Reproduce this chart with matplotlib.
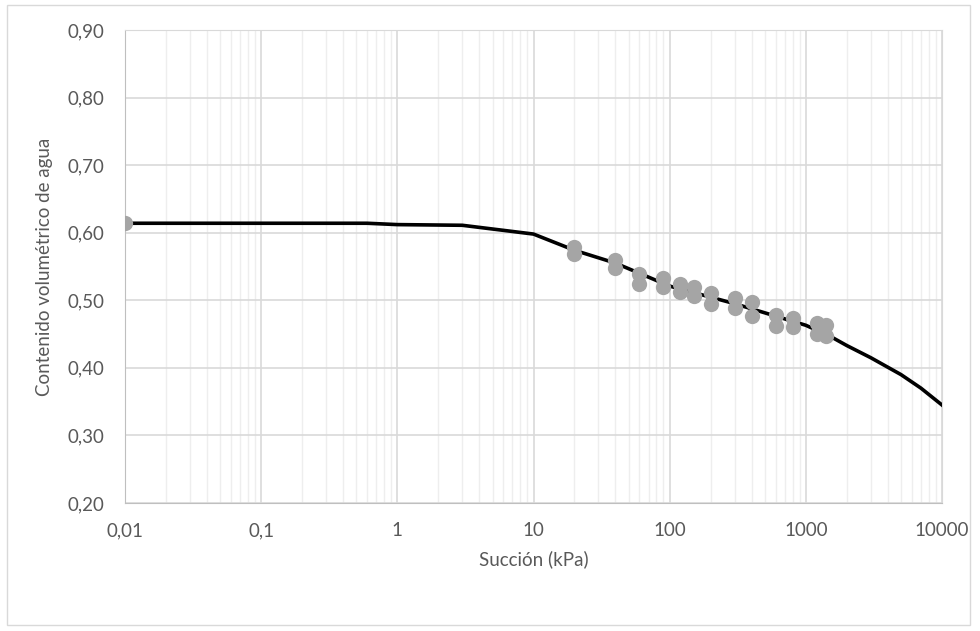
import matplotlib.pyplot as plt
from matplotlib.ticker import FixedLocator, FuncFormatter, LogLocator, NullFormatter
from matplotlib.patches import Rectangle

plt.rcParams['font.family'] = ['Lato', 'DejaVu Sans']

# measured points (suction kPa, volumetric water content)
suction_pts = [0.01,
               20, 20, 40, 40, 60, 60, 90, 90, 120, 120, 150, 150,
               200, 200, 300, 300, 400, 400, 600, 600, 800, 800,
               1200, 1200, 1400, 1400]
theta_pts = [0.614,
             0.579, 0.569, 0.560, 0.548, 0.539, 0.524, 0.533, 0.519,
             0.524, 0.512, 0.519, 0.507, 0.511, 0.495, 0.504, 0.488,
             0.498, 0.477, 0.478, 0.462, 0.474, 0.460, 0.466, 0.450,
             0.464, 0.447]

# fitted curve
suction_fit = [0.01, 0.1, 0.6, 1, 3, 10, 20, 40, 100, 300, 1000, 1500,
               2000, 3000, 5000, 7000, 10000]
theta_fit = [0.614, 0.614, 0.614, 0.612, 0.611, 0.598, 0.574, 0.555,
             0.521, 0.495, 0.463, 0.447, 0.433, 0.415, 0.390, 0.370, 0.345]

fig = plt.figure(figsize=(9.8, 6.31), dpi=100)
ax = fig.add_axes([125 / 980, 1 - 503 / 631, 817 / 980, 473 / 631])

ax.plot(suction_fit, theta_fit, color='black', lw=2.6, zorder=3)
ax.plot(suction_pts, theta_pts, 'o', color='#a5a5a5', ms=11, mec='none', zorder=4)

ax.set_xscale('log')
ax.set_xlim(0.01, 10000)
ax.set_ylim(0.20, 0.90)
ax.yaxis.set_major_locator(FixedLocator([0.2, 0.3, 0.4, 0.5, 0.6, 0.7, 0.8, 0.9]))
ax.yaxis.set_major_formatter(FuncFormatter(lambda v, p: f"{v:.2f}".replace('.', ',')))
ax.xaxis.set_major_locator(FixedLocator([0.01, 0.1, 1, 10, 100, 1000, 10000]))
ax.xaxis.set_major_formatter(FuncFormatter(lambda v, p: f"{v:g}".replace('.', ',')))
ax.xaxis.set_minor_locator(LogLocator(base=10, subs=range(2, 10), numticks=20))
ax.xaxis.set_minor_formatter(NullFormatter())

ax.grid(which='major', color='#d9d9d9', lw=1.2)
ax.grid(which='minor', axis='x', color='#eeeeee', lw=1.0)
ax.set_axisbelow(True)
ax.tick_params(which='both', length=0, labelsize=13.5, colors='#595959')
ax.tick_params(axis='x', pad=14)
ax.tick_params(axis='y', pad=15)
for s in ax.spines.values():
    s.set_color('#d9d9d9')
ax.spines['left'].set_color('#bfbfbf')
ax.spines['bottom'].set_color('#bfbfbf')

ax.set_xlabel('Succión (kPa)', fontsize=13.5, color='#595959', labelpad=8)
ax.set_ylabel('Contenido volumétrico de agua', fontsize=13.5, color='#595959', labelpad=10)

fig.patches.append(Rectangle((7 / 980, 6 / 631), 963 / 980, 620 / 631,
                             transform=fig.transFigure, fill=False,
                             ec='#d9d9d9', lw=1))

fig.savefig('out.png', dpi=100)
